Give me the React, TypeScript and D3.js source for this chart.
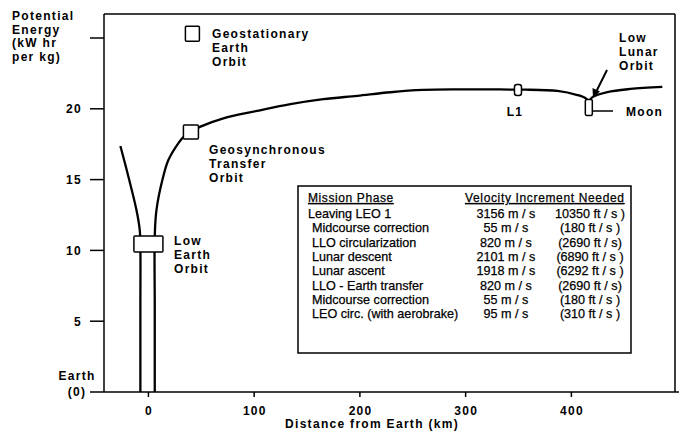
import React from "react";
import * as d3 from "d3";

// ---- data ----
const xTicks = [0, 100, 200, 300, 400];
const yTicks = [5, 10, 15, 20, 25];
const yTickLabels = ["5", "10", "15", "20", ""];

// Earth gravity well, left branch (distance km, energy kW hr/kg)
const wellLeft: [number, number][] = [
  [-26.5, 17.37], [-18.9, 15.2], [-11.3, 12.85], [-8.2, 11.44], [-7.6, 10.2], [-7.6, 6], [-7.6, 0],
];
// Outbound trajectory: Earth -> GTO -> L1 -> Moon
const outbound: [number, number][] = [
  [6.0, 0], [6.0, 6], [6.0, 11.0], [7.6, 12.85], [13.9, 15.18], [18.9, 16.38], [28.4, 17.58],
  [33.1, 18.0], [40.2, 18.36], [49.2, 18.74], [70.9, 19.33], [102.8, 19.85], [134.3, 20.33],
  [165.5, 20.68], [197.6, 20.92], [228.8, 21.17], [260, 21.33], [292.2, 21.37], [323.4, 21.37],
  [350, 21.35], [356.5, 21.35], [386.8, 21.26], [405.7, 20.97], [413.5, 20.75], [416.6, 20.5],
];
// Beyond the Moon
const beyond: [number, number][] = [
  [416.6, 20.5], [419.9, 20.82], [434, 21.18], [455.8, 21.4], [486, 21.55],
];

const boxNames = ["LEO", "GTO", "GEO", "L1", "Moon"];
const boxX = [0, 40.2, 41.6, 349.5, 416.5];
const boxY = [10.45, 18.36, 25.3, 21.33, 20.1];

const phases = [
  "Leaving LEO 1",
  "Midcourse correction",
  "LLO circularization",
  "Lunar descent",
  "Lunar ascent",
  "LLO - Earth transfer",
  "Midcourse correction",
  "LEO circ. (with aerobrake)",
];
const deltaVms = ["3156 m / s", "55 m / s", "820 m / s", "2101 m / s", "1918 m / s", "820 m / s", "55 m / s", "95 m / s"];
const deltaVfts = ["10350 ft / s )", "(180 ft / s )", "(2690 ft / s)", "(6890 ft / s )", "(6292 ft / s )", "(2690 ft / s)", "(180 ft / s )", "(310 ft / s )"];

// ---- layout ----
const W = 679;
const H = 432;
const plotLeft = 104;
const plotRight = 675;
const plotTop = 14;
const plotBottom = 392;

const boxSize: Record<string, [number, number, number]> = {
  LEO: [29, 16, 1],
  GTO: [15, 14, 1],
  GEO: [14, 15, 1],
  L1: [7, 11, 2.5],
  Moon: [7, 16, 1.5],
};

const bold = {
  fontFamily: "'Liberation Sans', Arial, Helvetica, sans-serif",
  fontWeight: 700 as const,
  fontSize: 12,
  letterSpacing: 1.3,
  fill: "#000",
};
const reg = {
  fontFamily: "'Liberation Sans', Arial, Helvetica, sans-serif",
  fontWeight: 400 as const,
  fontSize: 12.6,
  fill: "#000",
  stroke: "#000",
  strokeWidth: 0.25,
};

export default function App() {
  const x = d3.scaleLinear().domain([-42, 498]).range([plotLeft, plotRight]);
  const y = d3.scaleLinear().domain([0, 25]).range([plotBottom, 38]);
  const line = d3
    .line<[number, number]>()
    .x((d) => x(d[0]))
    .y((d) => y(d[1]))
    .curve(d3.curveCatmullRom.alpha(0.5));

  const rowY = (i: number) => 218 + i * 14.3;

  return (
    <svg width={W} height={H} style={{ position: "absolute", left: 0, top: 0, background: "#fff" }}>
      <rect x={0} y={0} width={W} height={H} fill="#fff" />
      {/* frame */}
      <line x1={plotLeft} y1={plotTop} x2={plotLeft} y2={plotBottom} stroke="#000" strokeWidth={1.5} />
      <line x1={plotLeft} y1={plotTop} x2={plotRight} y2={plotTop} stroke="#000" strokeWidth={1.5} />
      <line x1={plotRight} y1={plotTop} x2={plotRight} y2={plotBottom} stroke="#000" strokeWidth={1.5} />
      <line x1={90} y1={plotBottom} x2={W} y2={plotBottom} stroke="#000" strokeWidth={1.5} />

      {/* y ticks */}
      {yTicks.map((t, i) => (
        <g key={"yt" + t}>
          <line x1={90} x2={plotLeft} y1={y(t)} y2={y(t)} stroke="#000" strokeWidth={1.5} />
          {yTickLabels[i] && (
            <text x={82} y={y(t)} dy="0.36em" textAnchor="end" style={bold}>
              {yTickLabels[i]}
            </text>
          )}
        </g>
      ))}
      <text x={77} y={380} textAnchor="middle" style={bold}>Earth</text>
      <text x={77} y={396} textAnchor="middle" style={bold}>(0)</text>

      {/* y title */}
      <text style={bold}>
        <tspan x={12} y={20}>Potential</tspan>
        <tspan x={12} y={34}>Energy</tspan>
        <tspan x={12} y={47}>(kW hr</tspan>
        <tspan x={12} y={61}>per kg)</tspan>
      </text>

      {/* x ticks */}
      {xTicks.map((t) => (
        <g key={"xt" + t}>
          <line x1={x(t)} x2={x(t)} y1={plotBottom} y2={plotBottom + 5} stroke="#000" strokeWidth={1.5} />
          <text x={x(t) + 0.7} y={415} textAnchor="middle" style={bold}>{t}</text>
        </g>
      ))}
      <text x={372} y={428} textAnchor="middle" style={bold}>Distance from Earth (km)</text>

      {/* curves */}
      <path d={line(wellLeft) || ""} fill="none" stroke="#000" strokeWidth={2.3} />
      <path d={line(outbound) || ""} fill="none" stroke="#000" strokeWidth={2.3} />
      <path d={line(beyond) || ""} fill="none" stroke="#000" strokeWidth={2.3} />

      {/* moon pointer line */}
      <line x1={x(boxX[4]) + 3} x2={613} y1={111} y2={111} stroke="#000" strokeWidth={1.5} />
      {/* arrow to Low Lunar Orbit */}
      <line x1={607} y1={70} x2={596.5} y2={91} stroke="#000" strokeWidth={2} />
      <polygon points="593,98 592.5,88 600,91.5" fill="#000" />

      {/* boxes */}
      {boxNames.map((n, i) => {
        const [bw, bh, r] = boxSize[n];
        return (
          <rect
            key={n}
            x={x(boxX[i]) - bw / 2}
            y={y(boxY[i]) - bh / 2}
            width={bw}
            height={bh}
            rx={r}
            fill="#fff"
            stroke="#000"
            strokeWidth={1.5}
          />
        );
      })}

      {/* annotations */}
      <text style={bold}>
        <tspan x={212} y={38}>Geostationary</tspan>
        <tspan x={212} y={52}>Earth</tspan>
        <tspan x={212} y={66}>Orbit</tspan>
      </text>
      <text style={bold}>
        <tspan x={209} y={154}>Geosynchronous</tspan>
        <tspan x={209} y={168}>Transfer</tspan>
        <tspan x={209} y={182}>Orbit</tspan>
      </text>
      <text style={bold}>
        <tspan x={174} y={245}>Low</tspan>
        <tspan x={174} y={259}>Earth</tspan>
        <tspan x={174} y={273}>Orbit</tspan>
      </text>
      <text style={bold}>
        <tspan x={619} y={42}>Low</tspan>
        <tspan x={619} y={56}>Lunar</tspan>
        <tspan x={619} y={70}>Orbit</tspan>
      </text>
      <text x={515} y={116} textAnchor="middle" style={bold}>L1</text>
      <text x={626} y={116} style={bold}>Moon</text>

      {/* mission table */}
      <rect x={298} y={186} width={333} height={167} fill="#fff" stroke="#000" strokeWidth={1.5} />
      <text x={308} y={202} style={{ ...reg, fontSize: 12, letterSpacing: 0.6, textDecoration: "underline" }}>Mission Phase</text>
      <text x={465} y={202} style={{ ...reg, fontSize: 12, letterSpacing: 0.65, textDecoration: "underline" }}>Velocity Increment Needed</text>
      {phases.map((p, i) => (
        <g key={"row" + i}>
          <text x={i === 0 ? 308 : 312} y={rowY(i)} style={reg}>{p}</text>
          <text x={506} y={rowY(i)} textAnchor="middle" style={reg}>{deltaVms[i]}</text>
          <text x={590} y={rowY(i)} textAnchor="middle" style={reg}>{deltaVfts[i]}</text>
        </g>
      ))}
    </svg>
  );
}
